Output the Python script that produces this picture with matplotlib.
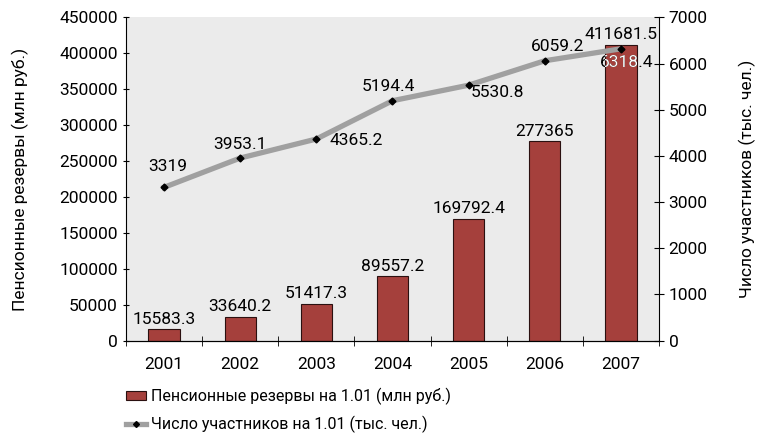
import numpy as np
import matplotlib.pyplot as plt
from matplotlib.lines import Line2D
from matplotlib.patches import Patch

plt.rcParams['font.family'] = ['Roboto', 'DejaVu Sans']

years = ['2001', '2002', '2003', '2004', '2005', '2006', '2007']
reserves = [15583.3, 33640.2, 51417.3, 89557.2, 169792.4, 277365, 411681.5]
members = [3319, 3953.1, 4365.2, 5194.4, 5530.8, 6059.2, 6318.4]
reserve_labels = ['15583.3', '33640.2', '51417.3', '89557.2', '169792.4', '277365', '411681.5']
member_labels = ['3319', '3953.1', '4365.2', '5194.4', '5530.8', '6059.2', '6318.4']
# label offsets (points) for the line labels
member_offsets = [(3, 15), (0, 10), (29, -1), (-3, 10), (21, -5), (9, 10), (4, -10)]

bar_color = '#A5403C'
line_color = '#A0A0A0'
fs = 12.5

fig = plt.figure(figsize=(7.57, 4.36), dpi=100)
ax = fig.add_axes([0.1664, 0.2186, 0.7041, 0.7417])
ax.set_facecolor('#EBEBEB')
x = np.arange(len(years))

bars = ax.bar(x, reserves, width=0.41, color=bar_color, edgecolor='#2a1010', linewidth=0.8, zorder=2)
ax.set_xlim(-0.5, len(years) - 0.5)
ax.set_ylim(0, 450000)
ax.set_yticks(np.arange(0, 450001, 50000))
ax.set_xticks(x)
ax.set_xticklabels(years)
ax.set_xticks(np.arange(-0.5, len(years), 1), minor=True)
ax.tick_params(axis='x', which='major', length=0, pad=12, labelsize=fs)
ax.tick_params(axis='x', which='minor', length=7, direction='inout')
ax.tick_params(axis='y', direction='inout', length=5, labelsize=fs)
ax.set_ylabel('Пенсионные резервы (млн руб.)', fontsize=fs, labelpad=22)
for s in ['top', 'right']:
    ax.spines[s].set_visible(False)

for xi, v, lab in zip(x, reserves, reserve_labels):
    ax.annotate(lab, (xi, v), xytext=(0, 2), textcoords='offset points',
                ha='center', va='bottom', fontsize=fs, zorder=5)

ax2 = ax.twinx()
ax2.set_ylim(0, 7000)
ax2.set_yticks(np.arange(0, 7001, 1000))
ax2.tick_params(axis='y', direction='inout', length=7, labelsize=fs)
ax2.set_ylabel('Число участников (тыс. чел.)', fontsize=fs, labelpad=22)
ax2.plot(x, members, color=line_color, linewidth=3.8, zorder=3)
ax2.plot(x, members, linestyle='none', marker='D', markersize=3.5, color='black', zorder=4)
ax2.spines['top'].set_visible(False)
ax2.spines['left'].set_visible(False)

last_bar = bars[-1]
for i, (xi, v, lab) in enumerate(zip(x, members, member_labels)):
    dx, dy = member_offsets[i]
    ax2.annotate(lab, (xi, v), xytext=(dx, dy), textcoords='offset points',
                 ha='center', va='center', fontsize=fs, color='black', zorder=5)
    if i == len(years) - 1:
        tw = ax2.annotate(lab, (xi, v), xytext=(dx, dy), textcoords='offset points',
                          ha='center', va='center', fontsize=fs, color='white', zorder=6)
        tw.set_clip_path(last_bar)

handles = [Patch(facecolor=bar_color, edgecolor='#2a1010', linewidth=0.8),
           Line2D([0], [0], color=line_color, linewidth=3.8, marker='D', markersize=3,
                  markerfacecolor='black', markeredgecolor='black')]
fig.legend(handles, ['Пенсионные резервы на 1.01 (млн руб.)', 'Число участников на 1.01 (тыс. чел.)'],
           loc='lower left', bbox_to_anchor=(0.149, -0.022), frameon=False, fontsize=11.5,
           borderpad=0.3, handlelength=1.25, handleheight=0.55, labelspacing=0.65, handletextpad=0.35)

fig.savefig('out.png', dpi=100)
